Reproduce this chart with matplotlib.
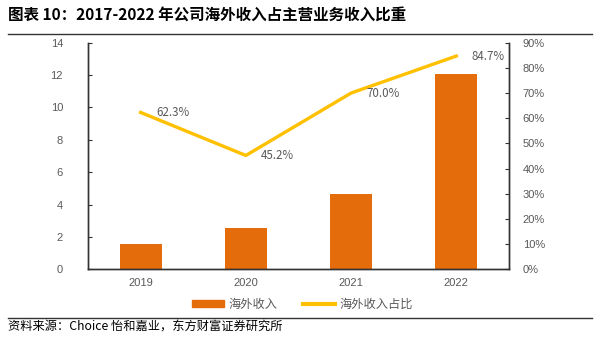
import numpy as np
import matplotlib
matplotlib.use("Agg")
import matplotlib.pyplot as plt
from matplotlib.ticker import FuncFormatter
from matplotlib.lines import Line2D
from matplotlib.patches import Patch

plt.rcParams['font.family'] = ['Noto Sans CJK SC', 'DejaVu Sans']

years = ['2019', '2020', '2021', '2022']
overseas_rev = [1.56, 2.55, 4.65, 12.04]      # 海外收入
overseas_share = [62.3, 45.2, 70.0, 84.7]     # 海外收入占比 (%)

barColor = '#E46C0A'
lineColor = '#FFC000'
grey = '#595959'

figure = plt.figure(figsize=(5.99, 3.49), dpi=100)
ax = figure.add_axes([0.1469, 0.2284, 0.7028, 0.6493])

x = np.arange(len(years))
ax.bar(x, overseas_rev, width=0.4, color=barColor, zorder=2)
ax.set_xlim(-0.5, len(years) - 0.5)
ax.set_ylim(0, 14)
ax.set_yticks(range(0, 15, 2))
ax.set_xticks(x)
ax.set_xticklabels(years)

rax = ax.twinx()
rax.plot(x, overseas_share, color=lineColor, linewidth=2.4, zorder=3)
rax.set_ylim(0, 90)
rax.set_yticks(range(0, 91, 10))
rax.yaxis.set_major_formatter(FuncFormatter(lambda v, pos: '%d%%' % v))

for xi, v in zip(x, overseas_share):
    rax.annotate('%.1f%%' % v, (xi, v), xytext=(11, 0), textcoords='offset points',
                 ha='left', va='center', fontsize=8.3, color=grey)

for a in (ax, rax):
    a.spines['top'].set_visible(False)
    for s in ('left', 'right', 'bottom'):
        a.spines[s].set_color('#333333')
        a.spines[s].set_linewidth(1.0)
    a.tick_params(axis='y', direction='in', length=3, labelsize=8, labelcolor=grey, color='#333333')
    a.tick_params(axis='x', length=0, labelsize=8, labelcolor=grey, pad=6)
ax.tick_params(axis='y', pad=18)
rax.tick_params(axis='y', pad=10)
for lab in ax.get_yticklabels() + rax.get_yticklabels() + ax.get_xticklabels():
    lab.set_family(['Liberation Sans', 'DejaVu Sans'])

handles = [Patch(color=barColor), Line2D([0], [0], color=lineColor, linewidth=3)]
figure.legend(handles, ['海外收入', '海外收入占比'], loc='center', bbox_to_anchor=(0.505, 0.128),
              ncol=2, frameon=False, fontsize=8.8, labelcolor=grey, handlelength=2.6,
              handleheight=0.55, handletextpad=0.4, columnspacing=2.1)

figure.text(0.013, 0.955, '图表 10：2017-2022 年公司海外收入占主营业务收入比重',
            fontsize=11.2, fontweight='bold', va='center', ha='left')
figure.add_artist(Line2D([0.013, 0.988], [0.903, 0.903], color='#333333', linewidth=1.0))
figure.add_artist(Line2D([0.013, 0.988], [0.089, 0.089], color='#333333', linewidth=1.0))
figure.text(0.013, 0.063, '资料来源：Choice 怡和嘉业，东方财富证券研究所',
            fontsize=8.8, va='center', ha='left')

figure.savefig('out.png', dpi=100)
